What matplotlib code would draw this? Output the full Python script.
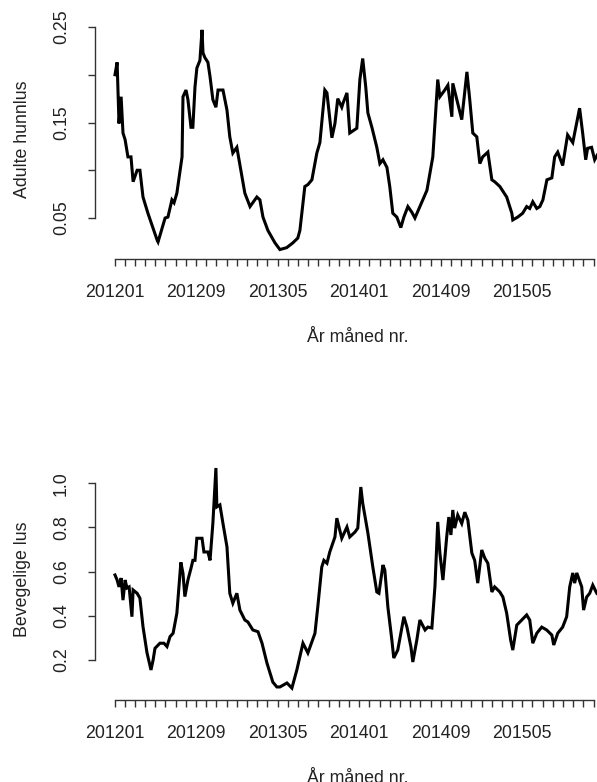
import matplotlib
matplotlib.use("Agg")
import matplotlib.pyplot as plt

plt.rcParams['font.family'] = ['Liberation Sans', 'DejaVu Sans']

# uke-nummer (fra jan 2012) og verdier lest av figuren
uke_hunn = [0.2, 1.1, 1.9, 2.8, 3.6, 4.5, 5.7, 7.0, 7.9, 9.6, 10.8, 12.1, 14.2, 18.1, 18.5,
            21.5, 22.7, 24.4, 25.3, 26.5, 28.7, 29.1, 30.4, 31.2, 32.5, 33.3, 34.2, 35.0,
            36.3, 37.2, 37.6, 38.4, 39.7, 40.6, 41.8, 43.1, 44.0, 46.1, 47.8, 49.0, 50.3,
            52.0, 54.2, 55.4, 57.6, 60.5, 61.8, 63.1, 65.2, 68.2, 70.3, 73.2, 75.8, 77.9,
            78.8, 80.9, 82.2, 83.9, 86.0, 87.3, 89.4, 90.3, 92.4, 93.7, 94.9, 96.6, 97.1,
            98.8, 100.0, 103.0, 104.3, 105.5, 106.8, 107.7, 109.4, 111.5, 112.8, 114.1,
            115.8, 117.0, 118.3, 120.0, 121.7, 123.0, 124.7, 126.4, 127.7, 129.8, 132.8,
            135.3, 137.4, 138.3, 140.4, 141.7, 143.4, 143.8, 145.5, 147.6, 149.8, 151.0,
            152.3, 154.0, 155.3, 156.5, 158.7, 160.4, 161.6, 163.8, 166.7, 168.9, 169.3,
            171.4, 173.5, 175.2, 176.5, 177.8, 179.5, 180.8, 182.1, 183.8, 185.9, 187.1,
            188.4, 190.5, 192.6, 194.8, 197.7, 199.0, 200.3, 201.1, 202.8, 204.1, 205.0,
            206.2]
hunnlus = [0.200, 0.213, 0.149, 0.177, 0.139, 0.132, 0.114, 0.114, 0.088, 0.100, 0.100,
           0.072, 0.055, 0.027, 0.025, 0.050, 0.051, 0.069, 0.066, 0.076, 0.114, 0.177,
           0.184, 0.174, 0.145, 0.145, 0.187, 0.207, 0.215, 0.247, 0.223, 0.218, 0.213,
           0.198, 0.174, 0.166, 0.184, 0.184, 0.163, 0.135, 0.118, 0.124, 0.093, 0.076,
           0.062, 0.072, 0.069, 0.051, 0.037, 0.024, 0.017, 0.019, 0.024, 0.029, 0.037,
           0.083, 0.085, 0.090, 0.118, 0.129, 0.184, 0.181, 0.134, 0.149, 0.175, 0.166,
           0.170, 0.181, 0.139, 0.144, 0.195, 0.217, 0.187, 0.160, 0.145, 0.124, 0.107,
           0.111, 0.103, 0.083, 0.055, 0.051, 0.040, 0.051, 0.062, 0.056, 0.050, 0.062,
           0.079, 0.114, 0.195, 0.177, 0.184, 0.189, 0.156, 0.191, 0.174, 0.153, 0.203,
           0.174, 0.139, 0.135, 0.107, 0.114, 0.119, 0.090, 0.088, 0.083, 0.072, 0.055,
           0.048, 0.051, 0.055, 0.062, 0.060, 0.067, 0.060, 0.062, 0.069, 0.090, 0.092,
           0.114, 0.119, 0.105, 0.137, 0.129, 0.165, 0.139, 0.111, 0.123, 0.124, 0.111,
           0.115, 0.110]

uke_beveg = [0.2, 1.1, 1.9, 2.8, 3.6, 4.5, 5.3, 6.2, 7.4, 7.9, 9.6, 10.8, 12.1, 13.8, 15.5,
             16.4, 17.2, 19.3, 21.0, 22.3, 23.6, 24.9, 26.5, 28.2, 29.1, 29.9, 31.2, 32.5,
             33.3, 34.2, 35.0, 37.2, 38.0, 39.7, 40.6, 41.8, 43.1, 43.5, 44.8, 46.1, 47.8,
             49.0, 50.3, 52.0, 53.3, 55.4, 56.7, 58.8, 61.0, 62.7, 64.8, 67.3, 69.0, 70.3,
             73.3, 75.4, 77.5, 80.1, 82.2, 85.2, 86.4, 88.1, 89.0, 90.3, 91.5, 93.7, 94.5,
             96.6, 98.8, 100.0, 102.2, 103.4, 104.7, 105.5, 107.7, 109.8, 111.5, 112.4,
             114.1, 114.9, 116.2, 117.9, 118.7, 120.4, 123.0, 124.3, 126.0, 126.8, 128.5,
             129.8, 132.0, 133.2, 134.9, 136.2, 137.4, 138.3, 139.6, 141.2, 142.1, 143.0,
             143.8, 144.6, 145.9, 147.6, 148.9, 150.2, 151.9, 153.1, 154.4, 156.1, 157.4,
             158.7, 160.4, 161.6, 163.8, 165.1, 166.7, 168.4, 169.3, 171.0, 173.1, 175.2,
             176.5, 177.8, 179.5, 181.6, 183.7, 185.9, 186.7, 188.4, 190.5, 192.2, 193.5,
             194.8, 195.6, 196.5, 198.6, 199.4, 200.7, 202.0, 203.3, 205.0, 206.2]
bevegelige = [0.585, 0.562, 0.531, 0.571, 0.471, 0.562, 0.526, 0.531, 0.396, 0.517, 0.502,
              0.480, 0.351, 0.233, 0.155, 0.200, 0.253, 0.276, 0.276, 0.261, 0.306, 0.321,
              0.412, 0.642, 0.592, 0.487, 0.562, 0.615, 0.651, 0.651, 0.751, 0.751, 0.689,
              0.689, 0.651, 0.818, 1.069, 0.893, 0.902, 0.818, 0.712, 0.502, 0.457, 0.502,
              0.426, 0.381, 0.372, 0.336, 0.328, 0.276, 0.186, 0.100, 0.078, 0.078, 0.096,
              0.073, 0.155, 0.276, 0.232, 0.321, 0.440, 0.621, 0.651, 0.638, 0.689, 0.757,
              0.842, 0.751, 0.802, 0.757, 0.779, 0.797, 0.983, 0.910, 0.775, 0.621, 0.508,
              0.502, 0.630, 0.607, 0.440, 0.290, 0.209, 0.245, 0.396, 0.349, 0.259, 0.191,
              0.290, 0.381, 0.336, 0.349, 0.345, 0.531, 0.825, 0.684, 0.562, 0.757, 0.847,
              0.766, 0.879, 0.797, 0.856, 0.818, 0.869, 0.833, 0.684, 0.651, 0.548, 0.698,
              0.661, 0.638, 0.508, 0.531, 0.508, 0.485, 0.412, 0.290, 0.245, 0.358, 0.381,
              0.404, 0.381, 0.276, 0.321, 0.349, 0.336, 0.313, 0.268, 0.321, 0.349, 0.396,
              0.531, 0.594, 0.548, 0.594, 0.531, 0.426, 0.485, 0.502, 0.539, 0.502, 0.49]

# maaneder 201201 - 201512, etikett hver 8. maaned
maaneder = ["%d%02d" % (aar, m) for aar in range(2012, 2016) for m in range(1, 13)]
maaned_uke = [i * 52 / 12 for i in range(len(maaneder))]
etiketter = [lab if i % 8 == 0 else "" for i, lab in enumerate(maaneder)]

fig = plt.figure(figsize=(5.97, 7.82), dpi=100)
W, H = 597, 782
FS = 12.8


def panel(px_left, px_right, px_top, px_bottom):
    return fig.add_axes([px_left / W, 1 - px_bottom / H,
                         (px_right - px_left) / W, (px_bottom - px_top) / H])


def tegn(ax, x, y, ylim, yticks, ylabels, ylab):
    ax.plot(x, y, color="black", lw=2.2, solid_joinstyle="miter")
    ax.set_xlim(-8.3, 215.3)
    ax.set_ylim(*ylim)
    for s in ["top", "right"]:
        ax.spines[s].set_visible(False)
    ax.spines["left"].set_bounds(yticks[0], yticks[-1])
    ax.spines["bottom"].set_bounds(maaned_uke[0], maaned_uke[-1])
    for s in ["left", "bottom"]:
        ax.spines[s].set_color("#333333")
        ax.spines[s].set_linewidth(1.0)
    ax.set_xticks(maaned_uke)
    ax.set_xticklabels(etiketter)
    ax.set_yticks(yticks)
    ax.set_yticklabels(ylabels, rotation=90, va="center")
    ax.tick_params(axis="both", direction="out", length=5, width=1.0,
                   color="#333333", labelsize=FS, labelcolor="#222222", pad=13)
    ax.set_xlabel("År måned nr.", fontsize=FS, color="#222222", labelpad=20)
    ax.set_ylabel(ylab, fontsize=FS, color="#222222", labelpad=16)
    ax.patch.set_visible(False)


ax1 = panel(95, 621, 20.3, 259)
tegn(ax1, uke_hunn, hunnlus, (0.0071, 0.257),
     [0.05, 0.10, 0.15, 0.20, 0.25], ["0.05", "", "0.15", "", "0.25"],
     "Adulte hunnlus")

ax2 = panel(95, 621, 459.4, 700)
tegn(ax2, uke_beveg, bevegelige, (0.019, 1.108),
     [0.2, 0.4, 0.6, 0.8, 1.0], ["0.2", "0.4", "0.6", "0.8", "1.0"],
     "Bevegelige lus")

fig.savefig("out.png", dpi=100)
